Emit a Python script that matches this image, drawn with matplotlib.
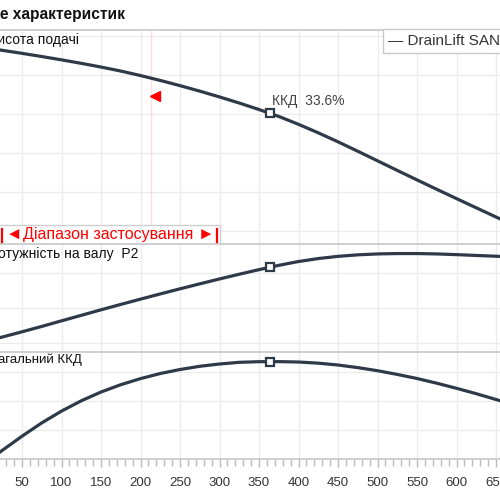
import matplotlib
matplotlib.use('Agg')
import matplotlib.pyplot as plt
from matplotlib.patches import Rectangle

plt.rcParams['font.family'] = ['Liberation Sans', 'DejaVu Sans']

# ---------------- data ----------------
flow = [20, 25, 50, 75, 100, 125, 150, 175, 200, 225, 250, 275, 300, 325,
        350, 375, 400, 425, 450, 475, 500, 525, 550, 575, 600, 625, 650, 670]
head = [9.297, 9.267, 9.113, 8.949, 8.779, 8.600, 8.410, 8.205, 7.974, 7.723,
        7.456, 7.174, 6.877, 6.564, 6.231, 5.877, 5.472, 5.036, 4.574, 4.092,
        3.600, 3.108, 2.621, 2.138, 1.662, 1.190, 0.718, 0.344]
power = [0.143, 0.171, 0.320, 0.474, 0.634, 0.791, 0.949, 1.103, 1.254, 1.403,
         1.549, 1.691, 1.831, 1.966, 2.097, 2.220, 2.329, 2.414, 2.477, 2.520,
         2.546, 2.557, 2.557, 2.546, 2.526, 2.503, 2.480, 2.463]
eff = [1.97, 2.97, 7.86, 12.45, 16.52, 20.07, 23.10, 25.62, 27.72, 29.48,
       30.86, 31.97, 32.76, 33.34, 33.56, 33.58, 33.45, 33.05, 32.41, 31.52,
       30.45, 29.17, 27.76, 26.14, 24.38, 22.52, 20.52, 18.86]

duty_flow = 364
duty_head = 6.04
duty_power = 2.163
duty_eff = 33.6

range_start = 25
range_end = 297
limit_flow = 213
limit_head = 6.92

x_ticks = list(range(50, 651, 50))
head_grid = [0, 2, 4, 6, 8, 10]
power_grid = [0, 1, 2]
eff_grid = [10, 20, 30]

title = "Поле характеристик"
label_head = "Висота подачі"
label_power = "Потужність на валу  P2"
label_eff = "Загальний ККД"
range_label = "Діапазон застосування"
legend_label = "— DrainLift SANI S"
duty_label = "ККД  33.6%"

# ---------------- layout ----------------
LINE = '#2e3a48'
GRID = '#ececec'
SEP = '#cccccc'

fig = plt.figure(figsize=(5, 5), dpi=100)
X0 = -17.5
AXW = 553.0


def panel(top, bottom):
    return fig.add_axes([X0 / 500, (500 - bottom) / 500, AXW / 500, (bottom - top) / 500])


ax1 = panel(30, 244)
ax2 = panel(244, 352)
ax3 = panel(352, 459)

for ax in (ax1, ax2, ax3):
    ax.set_xlim(0, 700)
    ax.set_xticks(x_ticks)
    for s in ('left', 'right', 'bottom'):
        ax.spines[s].set_visible(False)
    ax.spines['top'].set_color(SEP)
    ax.spines['top'].set_linewidth(1.3)
    ax.grid(True, color=GRID, linewidth=1.0)
    ax.set_axisbelow(True)
    ax.tick_params(axis='y', left=False, labelleft=False)
    ax.tick_params(axis='x', bottom=False, labelbottom=False)

ax1.set_ylim(-0.667, 10.31)
ax1.set_yticks(head_grid)
ax2.set_ylim(-0.257, 2.83)
ax2.set_yticks(power_grid)
ax3.set_ylim(0, 36.9)
ax3.set_yticks(eff_grid)

ax3.spines['bottom'].set_visible(True)
ax3.spines['bottom'].set_color(SEP)
ax3.spines['bottom'].set_linewidth(1.3)
ax3.set_xticks([v for v in range(0, 701, 10) if v % 50], minor=True)
ax3.tick_params(axis='x', which='both', bottom=True, labelbottom=True, direction='out',
                color='#bbbbbb', labelsize=9.5, labelcolor='#333333', pad=7)
ax3.tick_params(axis='x', which='major', length=6, width=1)
ax3.tick_params(axis='x', which='minor', length=5, width=1)

# curves
ax1.plot(flow, head, color=LINE, lw=2.3, solid_capstyle='round', solid_joinstyle='round', zorder=3)
ax2.plot(flow, power, color=LINE, lw=2.3, solid_capstyle='round', solid_joinstyle='round', zorder=3)
ax3.plot(flow, eff, color=LINE, lw=2.3, solid_capstyle='round', solid_joinstyle='round', zorder=3)

mk = dict(marker='s', ms=6, mfc='white', mec=LINE, mew=1.6, zorder=4, ls='none')
ax1.plot([duty_flow], [duty_head], **mk)
ax2.plot([duty_flow], [duty_power], **mk)
ax3.plot([duty_flow], [duty_eff], **mk)

ax1.text(duty_flow + 3, duty_head + 0.25, duty_label, fontsize=10, color='#444444',
         ha='left', va='bottom')

# limit line and marker
ax1.axvline(limit_flow, color='#ff0000', alpha=0.12, lw=1, zorder=1)
ax1.plot([limit_flow + 5], [limit_head], marker='<', color='#ff0000', ms=7, ls='none', zorder=4)

# application range box
ax1.add_patch(Rectangle((-10, -0.667), range_end + 4 + 10, 0.975, facecolor='white',
                        edgecolor='#cfcfcf', lw=1, zorder=5))
for xv in (range_start, range_end):
    ax1.plot([xv, xv], [-0.615, 0.103], color='#ff0000', lw=1.6, zorder=6)
ax1.text(range_start + 4, -0.2, '◄', color='#ff0000', fontsize=12, ha='left', va='center', zorder=6)
ax1.text(range_end - 4, -0.2, '►', color='#ff0000', fontsize=12, ha='right', va='center', zorder=6)
ax1.text(159.5, -0.17, range_label, color='#ff0000', fontsize=11.5, ha='center', va='center', zorder=6)

# labels (clipped at the left edge like the reference)
fig.text(125 / 500, 1 - 15 / 500, title, fontsize=11.2, fontweight='bold', color='#111111',
         ha='right', va='center')
fig.text(79 / 500, 1 - 40 / 500, label_head, fontsize=10, color='#111111', ha='right', va='center')
fig.text(139 / 500, 1 - 254 / 500, label_power, fontsize=10, color='#111111', ha='right', va='center')
fig.text(82 / 500, 1 - 360 / 500, label_eff, fontsize=9.5, color='#111111', ha='right', va='center')

# legend box
fig.text(388 / 500, 1 - 41 / 500, legend_label, fontsize=11, color='#333333', ha='left', va='center',
         bbox=dict(boxstyle='square,pad=0.35', facecolor='white', edgecolor='#c8c8c8', lw=1))

fig.savefig('out.png', dpi=100)
